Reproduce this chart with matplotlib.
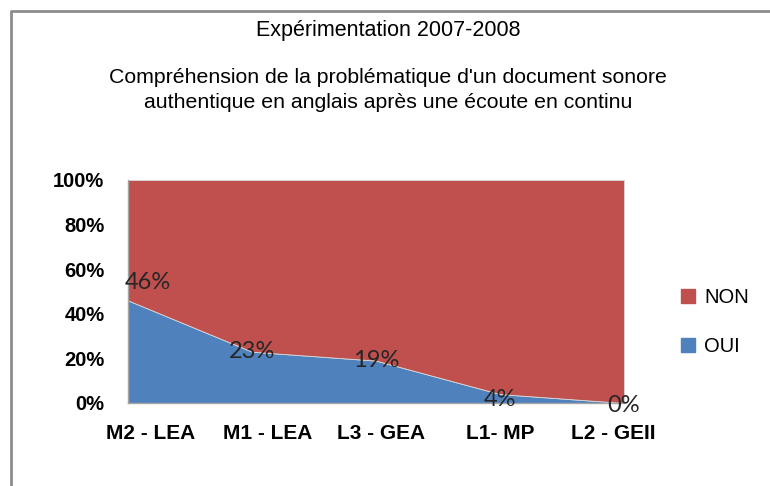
import matplotlib
matplotlib.use("Agg")
import matplotlib.pyplot as plt
from matplotlib.patches import Patch
from matplotlib.lines import Line2D
import numpy as np

categories = ["M2 - LEA", "M1 - LEA", "L3 - GEA", "L1- MP", "L2 - GEII"]
oui = [46, 23, 19, 4, 0]
non = [54, 77, 81, 96, 100]
yticks = [0, 20, 40, 60, 80, 100]

title = "Expérimentation 2007-2008"
subtitle = "Compréhension de la problématique d'un document sonore\nauthentique en anglais après une écoute en continu"

BLUE = "#4F81BD"
RED = "#C0504D"

plt.rcParams['font.family'] = ['Liberation Sans', 'DejaVu Sans']

fig = plt.figure(figsize=(7.7, 4.86), dpi=100)
ax = fig.add_axes([128/770, 1-403/486, (624-128)/770, (403-180)/486])

x = np.arange(len(categories))
ax.stackplot(x, oui, non, colors=[BLUE, RED], labels=["OUI", "NON"],
             edgecolor="#d9d9d9", linewidth=0.6)
ax.set_xlim(0, len(categories)-1)
ax.set_ylim(0, 100)
ax.margins(0)

ax.set_yticks(yticks)
ax.set_yticklabels([f"{v}%" for v in yticks], fontsize=14.5, fontweight='bold')
label_pos = [0.18, 1.13, 2.04, 3.0, 3.91]
ax.set_xticks(label_pos)
ax.set_xticklabels(categories, fontsize=15, fontweight='bold')
ax.tick_params(axis='both', length=0)
ax.tick_params(axis='y', pad=17)
ax.tick_params(axis='x', pad=15)
for s in ['top', 'right']:
    ax.spines[s].set_visible(False)
for s in ['left', 'bottom']:
    ax.spines[s].set_color('#a6a6a6')
    ax.spines[s].set_linewidth(1.0)

# data labels
offsets = [(14, 13), (0, 0), (0, 0), (0, -4), (0, -2)]
for i, v in enumerate(oui):
    ax.annotate(f"{v}%", (x[i], v), xytext=offsets[i], textcoords='offset points',
                ha='center', va='center', fontsize=17, family=['Lato', 'DejaVu Sans'],
                color='#262626', annotation_clip=False)

fig.text(0.504, 1-30/486, title, ha='center', va='center', fontsize=15.5)
fig.text(0.504, 1-90/486, subtitle, ha='center', va='center', fontsize=15.3,
         linespacing=1.4)

handles = [Patch(facecolor=RED, edgecolor=RED), Patch(facecolor=BLUE, edgecolor=BLUE)]
fig.legend(handles, ["NON", "OUI"], loc='center left',
           bbox_to_anchor=(681/770, 1-322/486), frameon=False, fontsize=14.5,
           handlelength=0.7, handleheight=0.68, handletextpad=0.45,
           labelspacing=1.5, borderpad=0, borderaxespad=0)

# chart border (top and left)
fig.add_artist(Line2D([11/770, 11/770, 1.0], [0.0, 1-11/486, 1-11/486],
                      transform=fig.transFigure, color='#8c8c8c', linewidth=2))

fig.savefig("out.png", dpi=100)
